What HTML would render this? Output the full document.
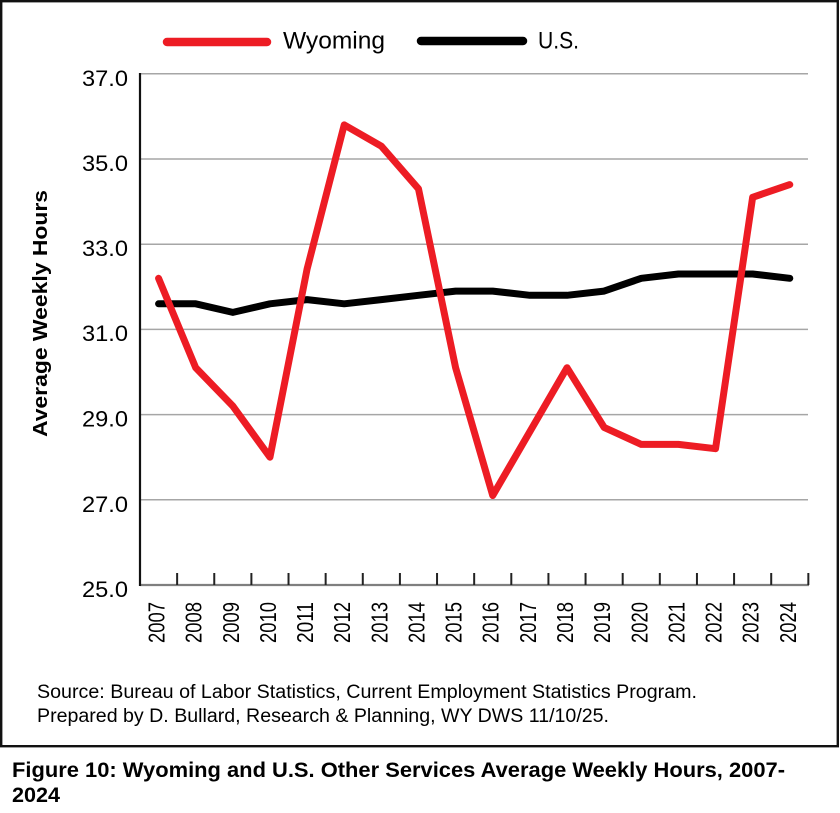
<!DOCTYPE html>
<html>
<head>
<meta charset="utf-8">
<style>
  html, body { margin: 0; padding: 0; background: #fff; }
  svg { display: block; }
  text { font-family: "Liberation Sans", Arial, sans-serif; fill: #000; }
</style>
</head>
<body>
<svg width="840" height="813" viewBox="0 0 840 813" xmlns="http://www.w3.org/2000/svg">
  <rect x="0" y="0" width="840" height="813" fill="#fff"/>
  <!-- outer frame -->
  <rect x="1.2" y="1.2" width="836.6" height="745" fill="none" stroke="#111" stroke-width="2.4"/>

  <!-- legend -->
  <line x1="167" y1="42" x2="267" y2="42" stroke="#ED1C24" stroke-width="8.5" stroke-linecap="round"/>
  <text x="283" y="48.5" font-size="24" textLength="102" lengthAdjust="spacingAndGlyphs">Wyoming</text>
  <line x1="421" y1="41" x2="523" y2="41" stroke="#000" stroke-width="8.5" stroke-linecap="round"/>
  <text x="538" y="48.5" font-size="24" textLength="41" lengthAdjust="spacingAndGlyphs">U.S.</text>

  <!-- gridlines -->
  <g stroke="#A6A6A6" stroke-width="1.5">
    <line x1="140" y1="73.8" x2="808" y2="73.8"/>
    <line x1="140" y1="159" x2="808" y2="159"/>
    <line x1="140" y1="244.2" x2="808" y2="244.2"/>
    <line x1="140" y1="329.4" x2="808" y2="329.4"/>
    <line x1="140" y1="414.6" x2="808" y2="414.6"/>
    <line x1="140" y1="499.8" x2="808" y2="499.8"/>
  </g>

  <!-- x axis -->
  <line x1="140" y1="585" x2="809" y2="585" stroke="#7F7F7F" stroke-width="2.2"/>
  <g stroke="#222" stroke-width="2">
    <line x1="177.13" y1="573" x2="177.13" y2="585"/>
    <line x1="214.26" y1="573" x2="214.26" y2="585"/>
    <line x1="251.39" y1="573" x2="251.39" y2="585"/>
    <line x1="288.52" y1="573" x2="288.52" y2="585"/>
    <line x1="325.65" y1="573" x2="325.65" y2="585"/>
    <line x1="362.78" y1="573" x2="362.78" y2="585"/>
    <line x1="399.91" y1="573" x2="399.91" y2="585"/>
    <line x1="437.04" y1="573" x2="437.04" y2="585"/>
    <line x1="474.17" y1="573" x2="474.17" y2="585"/>
    <line x1="511.30" y1="573" x2="511.30" y2="585"/>
    <line x1="548.43" y1="573" x2="548.43" y2="585"/>
    <line x1="585.56" y1="573" x2="585.56" y2="585"/>
    <line x1="622.69" y1="573" x2="622.69" y2="585"/>
    <line x1="659.82" y1="573" x2="659.82" y2="585"/>
    <line x1="696.95" y1="573" x2="696.95" y2="585"/>
    <line x1="734.08" y1="573" x2="734.08" y2="585"/>
    <line x1="771.21" y1="573" x2="771.21" y2="585"/>
    <line x1="808.34" y1="573" x2="808.34" y2="585"/>
  </g>
  <!-- y axis -->
  <line x1="140" y1="73" x2="140" y2="586" stroke="#111" stroke-width="2.2"/>

  <!-- y labels -->
  <g font-size="22">
    <text x="82" y="86" textLength="46" lengthAdjust="spacingAndGlyphs">37.0</text>
    <text x="82" y="171" textLength="46" lengthAdjust="spacingAndGlyphs">35.0</text>
    <text x="82" y="256" textLength="46" lengthAdjust="spacingAndGlyphs">33.0</text>
    <text x="82" y="341" textLength="46" lengthAdjust="spacingAndGlyphs">31.0</text>
    <text x="82" y="426.5" textLength="46" lengthAdjust="spacingAndGlyphs">29.0</text>
    <text x="82" y="512" textLength="46" lengthAdjust="spacingAndGlyphs">27.0</text>
    <text x="82" y="597" textLength="46" lengthAdjust="spacingAndGlyphs">25.0</text>
  </g>

  <!-- y title -->
  <text transform="translate(47,313.5) rotate(-90)" font-size="20" font-weight="bold" text-anchor="middle" textLength="247" lengthAdjust="spacingAndGlyphs">Average Weekly Hours</text>

  <!-- x labels -->
  <g font-size="23" text-anchor="end">
    <text transform="translate(164.6,602) rotate(-90)" textLength="41" lengthAdjust="spacingAndGlyphs">2007</text>
    <text transform="translate(201.7,602) rotate(-90)" textLength="41" lengthAdjust="spacingAndGlyphs">2008</text>
    <text transform="translate(238.8,602) rotate(-90)" textLength="41" lengthAdjust="spacingAndGlyphs">2009</text>
    <text transform="translate(276.0,602) rotate(-90)" textLength="41" lengthAdjust="spacingAndGlyphs">2010</text>
    <text transform="translate(313.1,602) rotate(-90)" textLength="41" lengthAdjust="spacingAndGlyphs">2011</text>
    <text transform="translate(350.2,602) rotate(-90)" textLength="41" lengthAdjust="spacingAndGlyphs">2012</text>
    <text transform="translate(387.4,602) rotate(-90)" textLength="41" lengthAdjust="spacingAndGlyphs">2013</text>
    <text transform="translate(424.5,602) rotate(-90)" textLength="41" lengthAdjust="spacingAndGlyphs">2014</text>
    <text transform="translate(461.6,602) rotate(-90)" textLength="41" lengthAdjust="spacingAndGlyphs">2015</text>
    <text transform="translate(498.7,602) rotate(-90)" textLength="41" lengthAdjust="spacingAndGlyphs">2016</text>
    <text transform="translate(535.9,602) rotate(-90)" textLength="41" lengthAdjust="spacingAndGlyphs">2017</text>
    <text transform="translate(573.0,602) rotate(-90)" textLength="41" lengthAdjust="spacingAndGlyphs">2018</text>
    <text transform="translate(610.1,602) rotate(-90)" textLength="41" lengthAdjust="spacingAndGlyphs">2019</text>
    <text transform="translate(647.3,602) rotate(-90)" textLength="41" lengthAdjust="spacingAndGlyphs">2020</text>
    <text transform="translate(684.4,602) rotate(-90)" textLength="41" lengthAdjust="spacingAndGlyphs">2021</text>
    <text transform="translate(721.5,602) rotate(-90)" textLength="41" lengthAdjust="spacingAndGlyphs">2022</text>
    <text transform="translate(758.7,602) rotate(-90)" textLength="41" lengthAdjust="spacingAndGlyphs">2023</text>
    <text transform="translate(795.8,602) rotate(-90)" textLength="41" lengthAdjust="spacingAndGlyphs">2024</text>
  </g>

  <!-- U.S. series -->
  <polyline fill="none" stroke="#000" stroke-width="7" stroke-linejoin="round" stroke-linecap="round"
    points="158.57,303.8 195.70,303.8 232.83,312.4 269.96,303.8 307.09,299.6 344.22,303.8 381.35,299.6 418.48,295.3 455.61,291.1 492.74,291.1 529.87,295.3 567.00,295.3 604.13,291.1 641.26,278.3 678.39,274.0 715.52,274.0 752.65,274.0 789.78,278.3"/>

  <!-- Wyoming series -->
  <polyline fill="none" stroke="#ED1C24" stroke-width="7" stroke-linejoin="round" stroke-linecap="round"
    points="158.57,278.3 195.70,367.7 232.83,406.1 269.96,457.2 307.09,269.0 344.22,124.9 381.35,146.2 418.48,188.8 455.61,367.7 492.74,495.5 529.87,431.6 567.00,367.7 604.13,427.4 641.26,444.4 678.39,444.4 715.52,448.7 752.65,197.3 789.78,184.6"/>

  <!-- source -->
  <text x="37" y="698" font-size="19" fill="#111" textLength="660" lengthAdjust="spacingAndGlyphs">Source: Bureau of Labor Statistics, Current Employment Statistics Program.</text>
  <text x="37" y="722" font-size="19" fill="#111" textLength="572" lengthAdjust="spacingAndGlyphs">Prepared by D. Bullard, Research &amp; Planning, WY DWS 11/10/25.</text>

  <!-- caption -->
  <text x="12" y="777" font-size="21" font-weight="bold" textLength="773" lengthAdjust="spacingAndGlyphs">Figure 10: Wyoming and U.S. Other Services Average Weekly Hours, 2007-</text>
  <text x="12" y="802" font-size="21" font-weight="bold" textLength="48" lengthAdjust="spacingAndGlyphs">2024</text>
</svg>
</body>
</html>
